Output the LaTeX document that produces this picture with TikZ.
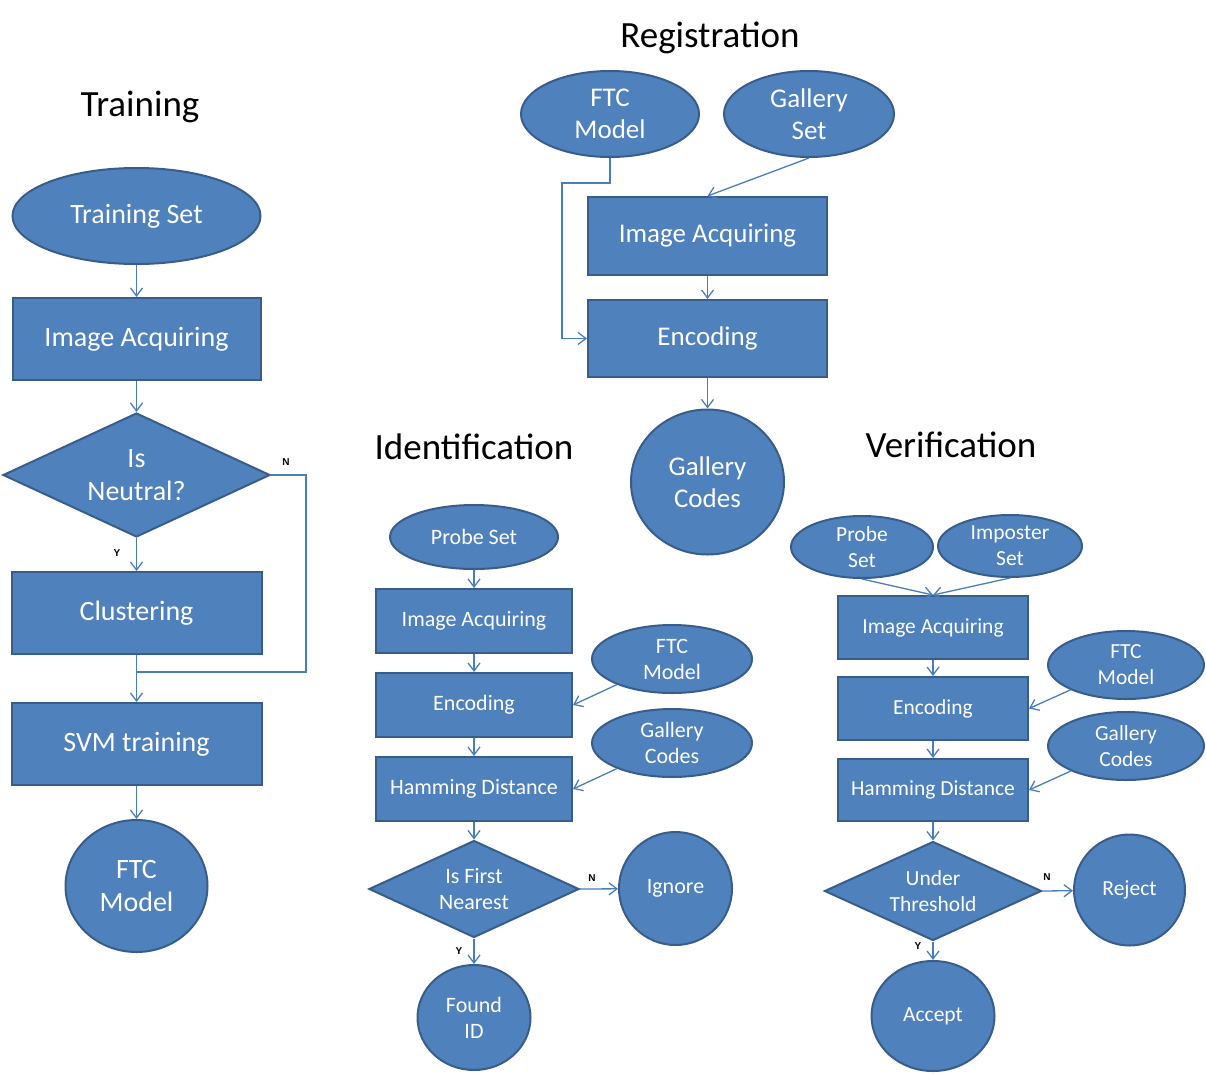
\documentclass[tikz,border=0pt]{standalone}
\usepackage{fontspec}
\setmainfont{Carlito}
\newfontfamily\labfont{Liberation Sans}
\usetikzlibrary{shapes.geometric,arrows.meta,calc}
\definecolor{fillc}{HTML}{4F81BD}
\definecolor{borderc}{HTML}{385D8A}
\definecolor{linec}{HTML}{4A7EBB}
\begin{document}
\begin{tikzpicture}[x=1pt,y=-1pt,
  shp/.style={fill=fillc, draw=borderc, line width=2pt, text=white, inner sep=0pt, align=center},
  box/.style={shp, rectangle},
  ell/.style={shp, ellipse},
  circ/.style={shp, circle},
  dia/.style={shp, diamond, aspect=2.17},
  tr/.style={font=\fontsize{28}{33}\selectfont},
  rg/.style={font=\fontsize{27}{32}\selectfont},
  idf/.style={font=\fontsize{22}{26}\selectfont},
  vf/.style={font=\fontsize{21.5}{26}\selectfont},
  ttl/.style={font=\fontsize{37}{44}\selectfont, text=black},
  arr/.style={draw=linec, line width=1.3pt, -{Straight Barb[length=8pt,width=12pt]}},
  ln/.style={draw=linec, line width=1.3pt},
  yn/.style={font=\labfont\bfseries\fontsize{10}{11}\selectfont, text=black}]
\useasboundingbox (0,0) rectangle (1206,1073);

% Titles
\node[ttl] (t1) at (140,107) {Training};
\node[ttl] (t2) at (710,38) {Registration};
\node[ttl] (t3) at (474,447) {Identification};
\node[ttl] (t4) at (951,445) {Verification};

% Training
\node[ell,tr,minimum width=248,minimum height=96] (ts) at (136.5,216) {Training Set};
\node[box,tr,minimum width=248,minimum height=82] (ia1) at (136.5,339) {Image Acquiring};
\node[dia,tr,minimum width=267,minimum height=124] (dn1) at (136.5,475) {Is\\Neutral?};
\node[box,tr,minimum width=250,minimum height=82] (cl1) at (136.5,613) {Clustering};
\node[box,tr,minimum width=250,minimum height=82] (sv1) at (136.5,744) {SVM training};
\node[ell,tr,minimum width=142,minimum height=132] (fm1) at (136.5,886) {FTC\\Model};
\coordinate (nj) at (136.5,672);
\coordinate (nc) at (306,672);
\draw[arr] (ts) -- (ia1);
\draw[arr] (ia1) -- (dn1);
\draw[arr] (dn1) -- (cl1);
\draw[arr] (cl1) -- (sv1);
\draw[arr] (sv1) -- (fm1);
\draw[ln] (dn1.east) -| (nc) -- (nj);
\node[yn] (n1) at (286,462) {N};
\node[yn] (y1) at (117,553) {Y};

% Registration
\node[ell,rg,minimum width=178,minimum height=86] (fm2) at (610,114) {FTC\\Model};
\node[ell,rg,minimum width=170,minimum height=86] (gs2) at (809,114) {Gallery\\Set};
\node[box,rg,minimum width=239,minimum height=78] (ia2) at (707.5,236) {Image Acquiring};
\node[box,rg,minimum width=239,minimum height=77] (en2) at (707.5,338.5) {Encoding};
\node[ell,rg,minimum width=153,minimum height=145] (gc2) at (707.5,482) {Gallery\\Codes};
\coordinate (r1) at (562,183);
\draw[arr] (fm2.south) |- (r1) |- (en2.west);
\draw[arr] (gs2.south) -- (ia2.north);
\draw[arr] (ia2) -- (en2);
\draw[arr] (en2) -- (gc2);

% Identification
\node[ell,idf,minimum width=168,minimum height=64] (pb3) at (474,537) {Probe Set};
\node[box,idf,minimum width=196,minimum height=64] (ia3) at (474,621) {Image Acquiring};
\node[box,idf,minimum width=196,minimum height=64] (en3) at (474,705) {Encoding};
\node[box,idf,minimum width=196,minimum height=64] (hd3) at (474,789) {Hamming Distance};
\node[ell,idf,minimum width=160,minimum height=68] (fm3) at (672,659) {FTC\\Model};
\node[ell,idf,minimum width=160,minimum height=68] (gc3) at (672,743) {Gallery\\Codes};
\node[dia,idf,minimum width=210,minimum height=97] (dn3) at (474,889) {Is First\\Nearest};
\node[circ,idf,minimum size=113] (ig3) at (675.5,888.5) {Ignore};
\node[ell,idf,minimum width=113,minimum height=105] (fi3) at (474,1017.5) {Found\\ID};
\draw[arr] (pb3) -- (ia3);
\draw[arr] (ia3) -- (en3);
\draw[arr] (en3) -- (hd3);
\draw[arr] (hd3) -- (dn3);
\draw[arr] (fm3) -- (en3.east);
\draw[arr] (gc3) -- (hd3.east);
\draw[arr] (dn3.east) -- (ig3);
\draw[arr] (dn3.south) -- (fi3);
\node[yn] (n3) at (592,878) {N};
\node[yn] (y3) at (459,951) {Y};

% Verification
\node[ell,vf,minimum width=142,minimum height=62] (pb4) at (862,547) {Probe\\Set};
\node[ell,vf,minimum width=144,minimum height=62] (im4) at (1010,546) {Imposter\\Set};
\node[box,vf,minimum width=190,minimum height=63] (ia4) at (933,627.5) {Image Acquiring};
\node[box,vf,minimum width=190,minimum height=63] (en4) at (933,708.5) {Encoding};
\node[box,vf,minimum width=190,minimum height=62] (hd4) at (933,790) {Hamming Distance};
\node[ell,vf,minimum width=156,minimum height=68] (fm4) at (1126,665) {FTC\\Model};
\node[ell,vf,minimum width=156,minimum height=68] (gc4) at (1126,746) {Gallery\\Codes};
\node[dia,vf,minimum width=217,minimum height=99] (dn4) at (933,891) {Under\\Threshold};
\node[circ,vf,minimum size=111] (rj4) at (1129.5,890) {Reject};
\node[ell,vf,minimum width=123,minimum height=110] (ac4) at (933,1016) {Accept};
\draw[arr] (pb4.south) -- (ia4.north);
\draw[arr] (im4.south) -- (ia4.north);
\draw[arr] (ia4) -- (en4);
\draw[arr] (en4) -- (hd4);
\draw[arr] (hd4) -- (dn4);
\draw[arr] (fm4) -- (en4.east);
\draw[arr] (gc4) -- (hd4.east);
\draw[arr] (dn4.east) -- (rj4);
\draw[arr] (dn4.south) -- (ac4);
\node[yn] (n4) at (1047,877) {N};
\node[yn] (y4) at (918,946) {Y};
\end{tikzpicture}
\end{document}
